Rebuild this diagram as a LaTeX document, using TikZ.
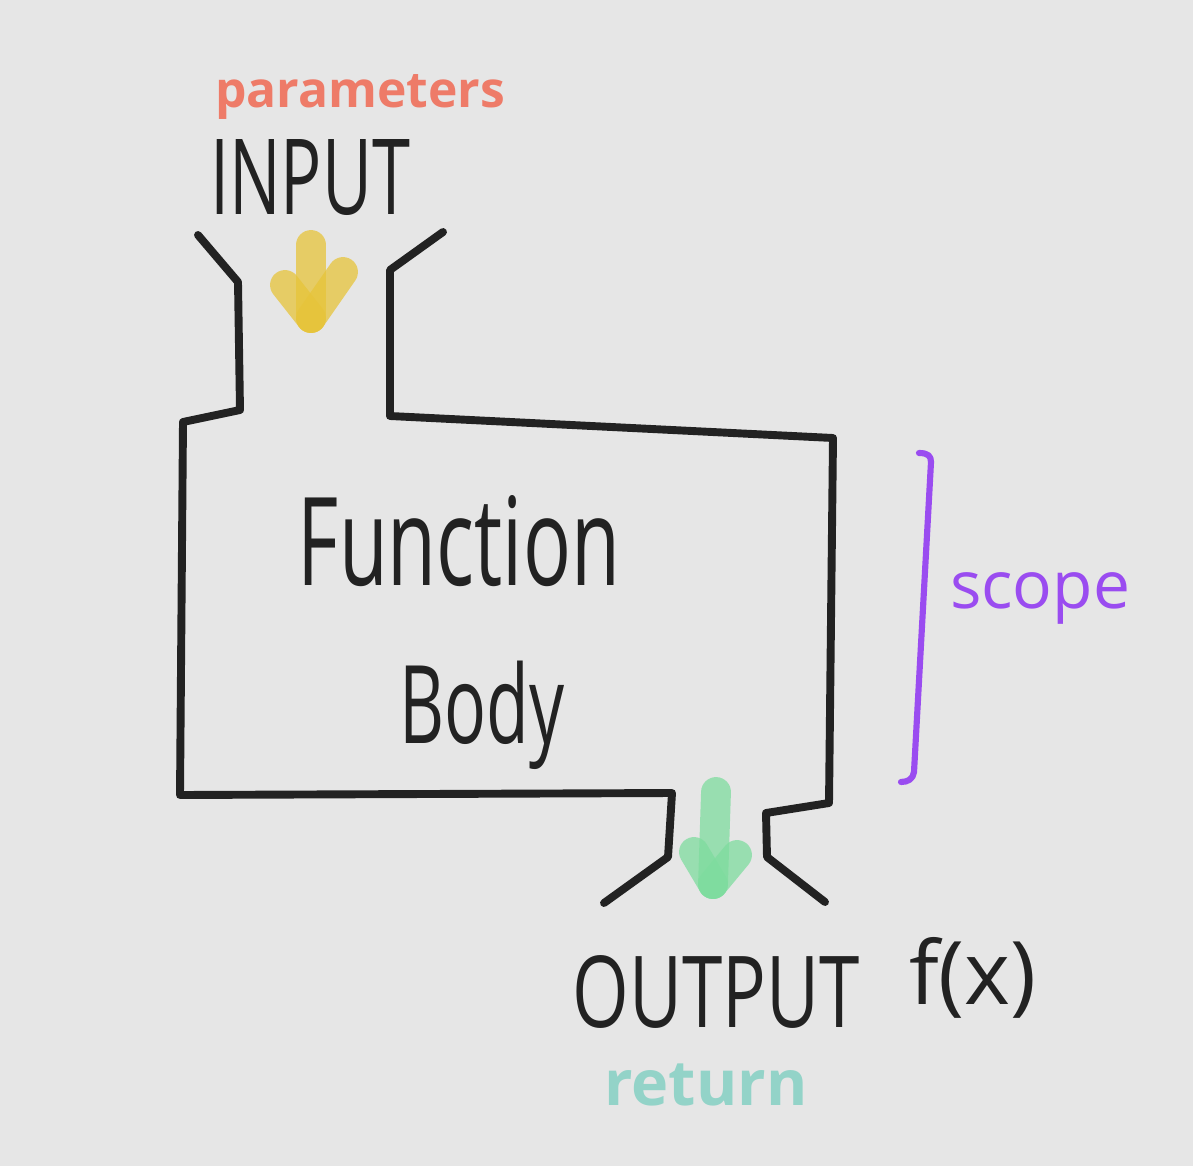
\documentclass[tikz,border=0pt]{standalone}
\usepackage{fontspec}
\setmainfont{Open Sans}
\usepackage{graphicx}
\definecolor{bg}{HTML}{E6E6E6}
\definecolor{ink}{HTML}{222222}
\definecolor{salmon}{HTML}{EE7B68}
\definecolor{ylw}{HTML}{E6C43A}
\definecolor{grn}{HTML}{7EDC9E}
\definecolor{teal}{HTML}{93D3C8}
\definecolor{purp}{HTML}{9A4CF0}
\tikzset{
  outline/.style={draw=ink, line width=4.5pt, line join=round, line cap=round},
  marker/.style={line width=17pt, line cap=round, opacity=0.75},
  bracketline/.style={draw=purp, line width=3.5pt, line cap=round, line join=round},
  lbl/.style={inner sep=0pt, anchor=center}
}
\begin{document}
\begin{tikzpicture}[x=0.02cm, y=-0.02cm]
\fill[bg] (0,0) rectangle (1193,1166);
\useasboundingbox (0,0) rectangle (1193,1166);
% outline of the function
\draw[outline] (198,235) -- (238,282) -- (240,410) -- (183,422) -- (180,795)
  -- (672,793) -- (668,857) -- (604,903);
\draw[outline] (825,902) -- (767,857) -- (766,813) -- (829,803) -- (833,438)
  -- (390,416) -- (390,270) -- (443,232);
% texts
\node[lbl, text=salmon] (params) at (360,97) {\resizebox{5.8cm}{!}{\bfseries parameters}};
\node[lbl, text=ink] (input) at (310,178) {\resizebox{4.0cm}{1.5cm}{INPUT}};
\node[lbl, text=ink] (func) at (459,541) {\resizebox{6.44cm}{1.8cm}{Function}};
\node[lbl, text=ink] (body) at (482,715) {\resizebox{3.3cm}{1.65cm}{Body}};
\node[lbl, text=purp] (scope) at (1040,598) {\resizebox{3.6cm}{!}{scope}};
\node[lbl, text=ink] (output) at (716,992) {\resizebox{5.74cm}{1.44cm}{OUTPUT}};
\node[lbl, text=ink] (fx) at (973,978) {\resizebox{2.55cm}{!}{f(x)}};
\node[lbl, text=teal] (ret) at (706,1085) {\resizebox{4.06cm}{!}{\bfseries return}};
% yellow input arrow
\coordinate (ys) at (311,245);
\coordinate (ye) at (311,318);
\draw[ylw, marker] (ys) -- (ye);
\draw[ylw, marker] (285,285) -- (ye);
\draw[ylw, marker] (343,272) -- (ye);
% green output arrow
\coordinate (gs) at (716,792);
\coordinate (ge) at (713,884);
\draw[grn, marker] (gs) -- (ge);
\draw[grn, marker] (694,852) -- (ge);
\draw[grn, marker] (737,855) -- (ge);
% scope bracket
\draw[bracketline] (919,453) .. controls (928,453) and (931,456) .. (931,462)
  -- (914,772) .. controls (913,779) and (908,782) .. (901,782);
\end{tikzpicture}
\end{document}
